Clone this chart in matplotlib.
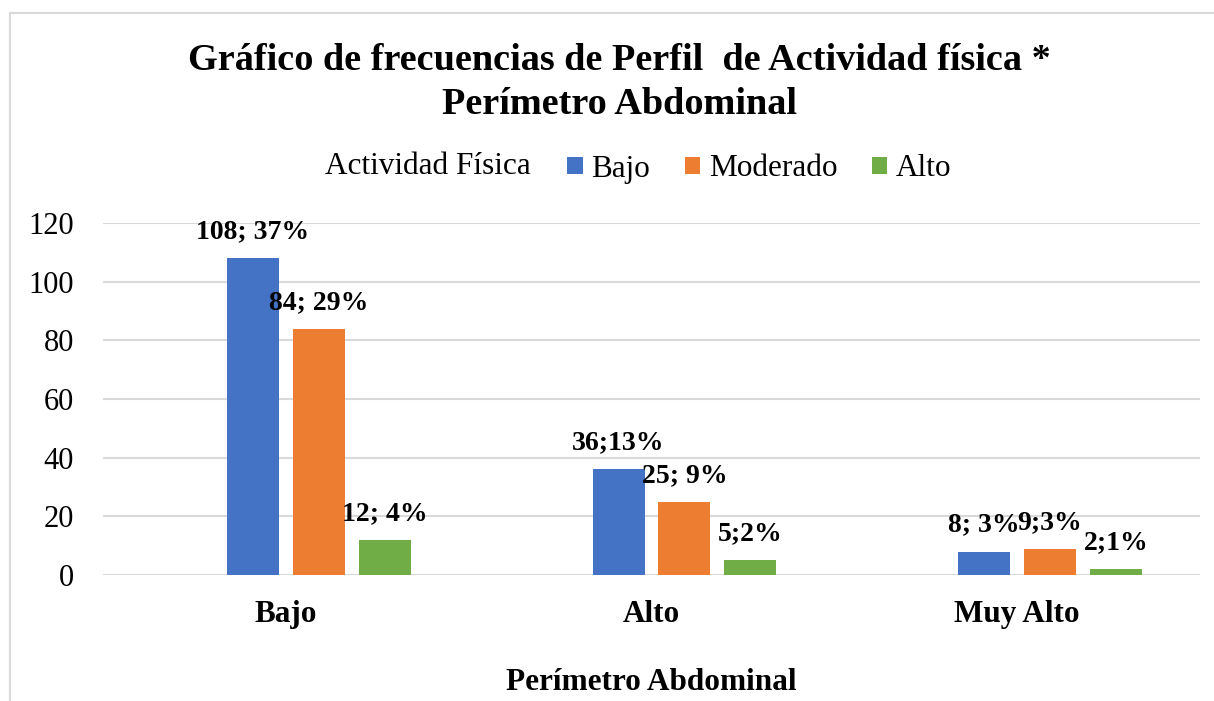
import matplotlib
matplotlib.use("Agg")
import matplotlib.pyplot as plt
import numpy as np
from matplotlib.patches import Rectangle, Patch

plt.rcParams['font.family'] = ['Liberation Serif', 'DejaVu Serif']

categories = ["Bajo", "Alto", "Muy Alto"]
# first legend entry "Actividad Física" is an empty series (occupies the first slot)
legend_title = "Actividad Física"
series_names = ["Bajo", "Moderado", "Alto"]
bajo = [108, 36, 8]
moderado = [84, 25, 9]
alto = [12, 5, 2]
bajo_labels = ["108; 37%", "36;13%", "8; 3%"]
moderado_labels = ["84; 29%", "25; 9%", "9;3%"]
alto_labels = ["12; 4%", "5;2%", "2;1%"]
yticks = [0, 20, 40, 60, 80, 100, 120]

colors = ["#4472C4", "#ED7D31", "#70AD47"]
W, H = 1214, 701
fig = plt.figure(figsize=(W / 100, H / 100), dpi=100)
ax = fig.add_axes([103 / W, 1 - 575 / H, (1200 - 103) / W, (575 - 223) / H])

x = np.arange(len(categories))
bw = 0.142
step = 0.18
n_slots = 4  # empty series + 3 visible series
all_vals = [bajo, moderado, alto]
all_labels = [bajo_labels, moderado_labels, alto_labels]
for i, (vals, labs) in enumerate(zip(all_vals, all_labels)):
    slot = i + 1
    pos = x + (slot - (n_slots - 1) / 2) * step
    ax.bar(pos, vals, width=bw, color=colors[i], zorder=3, label=series_names[i])
    for p, v, t in zip(pos, vals, labs):
        ax.annotate(t, xy=(p, v), xytext=(0, 19), textcoords='offset points',
                    ha='center', va='center', fontsize=20, fontweight='bold', zorder=4)

ax.set_xlim(-0.5, 2.5)
ax.set_ylim(0, 120)
ax.set_yticks(yticks)
ax.set_yticklabels([str(v) for v in yticks], fontsize=22)
ax.set_xticks(x)
ax.set_xticklabels(categories, fontsize=22.5, fontweight='bold')
ax.tick_params(axis='both', length=0)
ax.tick_params(axis='y', pad=21)
ax.tick_params(axis='x', pad=18)
for s in ax.spines.values():
    s.set_visible(False)
ax.yaxis.grid(True, color='#D9D9D9', linewidth=1.5, zorder=0)
ax.set_axisbelow(True)

fig.text(619 / W, 1 - 61 / H, "Gráfico de frecuencias de Perfil  de Actividad física *",
         ha='center', va='center', fontsize=27.5, fontweight='bold')
fig.text(619 / W, 1 - 104 / H, "Perímetro Abdominal",
         ha='center', va='center', fontsize=27.5, fontweight='bold')

fig.text(651 / W, 1 - 683 / H, "Perímetro Abdominal", ha='center', va='center',
         fontsize=22.5, fontweight='bold')

fig.text(325 / W, 1 - 167 / H, legend_title, ha='left', va='center', fontsize=22.5)
handles = [Patch(facecolor=c, edgecolor='none') for c in colors]
fig.legend(handles, series_names, loc='center left', bbox_to_anchor=(567 / W, 1 - 169 / H),
           ncol=3, frameon=False, fontsize=22.5, handlelength=0.5, handleheight=0.5,
           handletextpad=0.28, columnspacing=1.1, borderpad=0, borderaxespad=0)

fig.patches.append(Rectangle((10 / W, -0.1), 1.2, 1 - 13 / H + 0.1, transform=fig.transFigure,
                             fill=False, edgecolor='#D9D9D9', linewidth=1.5, figure=fig))

fig.savefig("out.png", dpi=100, facecolor='white')
